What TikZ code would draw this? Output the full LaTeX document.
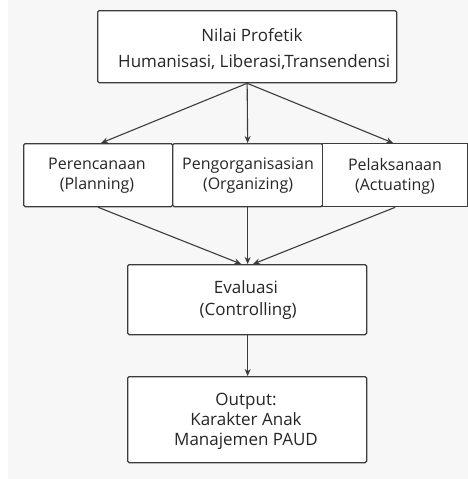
\documentclass[tikz,border=0pt]{standalone}
\usepackage{fontspec}
\setmainfont{Open Sans}
\usetikzlibrary{arrows.meta}
\definecolor{bg}{HTML}{F7F7F7}
\definecolor{ln}{HTML}{3C3C3C}
\definecolor{tx}{HTML}{262626}
\begin{document}
\begin{tikzpicture}[x=1pt,y=-1pt,
  box/.style={draw=ln,line width=1.3pt,fill=white,rounded corners=1.5pt,inner sep=0pt,anchor=north west},
  lbl/.style={text=tx,font=\fontsize{17}{20}\selectfont,align=center},
  mlbl/.style={lbl,font=\fontsize{16}{20}\selectfont},
  arr/.style={draw=ln,line width=1.1pt,-{Stealth[length=7pt,width=6pt]}}]
\useasboundingbox (0,0) rectangle (468,479);
\fill[bg] (8,0) rectangle (468,479);
% top box
\node[box,minimum width=299pt,minimum height=72pt] (top) at (97,10) {};
\node[lbl] (toptxt) at (252,49) {Nilai Profetik\\[6pt]\ Humanisasi, Liberasi,Transendensi};
% middle row
\node[box,minimum width=149pt,minimum height=63pt] (p) at (23,143) {};
\node[box,minimum width=150pt,minimum height=63pt] (o) at (172,143) {};
\node[box,minimum width=145pt,minimum height=63pt,rounded corners=0pt] (a) at (322,143) {};
\node[mlbl] (ptxt) at (97,176) {Perencanaan\\(Planning)};
\node[mlbl] (otxt) at (248,176) {Pengorganisasian\\(Organizing)};
\node[mlbl] (atxt) at (395,176) {Pelaksanaan\\(Actuating)};
% evaluasi
\node[box,minimum width=239pt,minimum height=70pt] (e) at (127,264) {};
\node[lbl] (etxt) at (246,300) {Evaluasi\\[2pt]\ (Controlling)};
% output
\node[box,minimum width=239pt,minimum height=86pt] (out) at (127,376) {};
\node[lbl] (otx) at (246,421) {Output:\\Karakter Anak\\Manajemen PAUD};
% arrows
\draw[arr] (top.south) -- ([xshift=3pt]p.north);
\draw[arr] (top.south) -- (o.north);
\draw[arr] (top.south) -- ([xshift=-2pt]a.north);
\draw[arr] (p.south) -- ([xshift=-6pt]e.north);
\draw[arr] (o.south) -- ([xshift=0.5pt]e.north);
\draw[arr] ([xshift=0pt]a.south) -- ([xshift=6pt]e.north);
\draw[arr] ([xshift=0.5pt]e.south) -- ([xshift=0.5pt]out.north);
\end{tikzpicture}
\end{document}
